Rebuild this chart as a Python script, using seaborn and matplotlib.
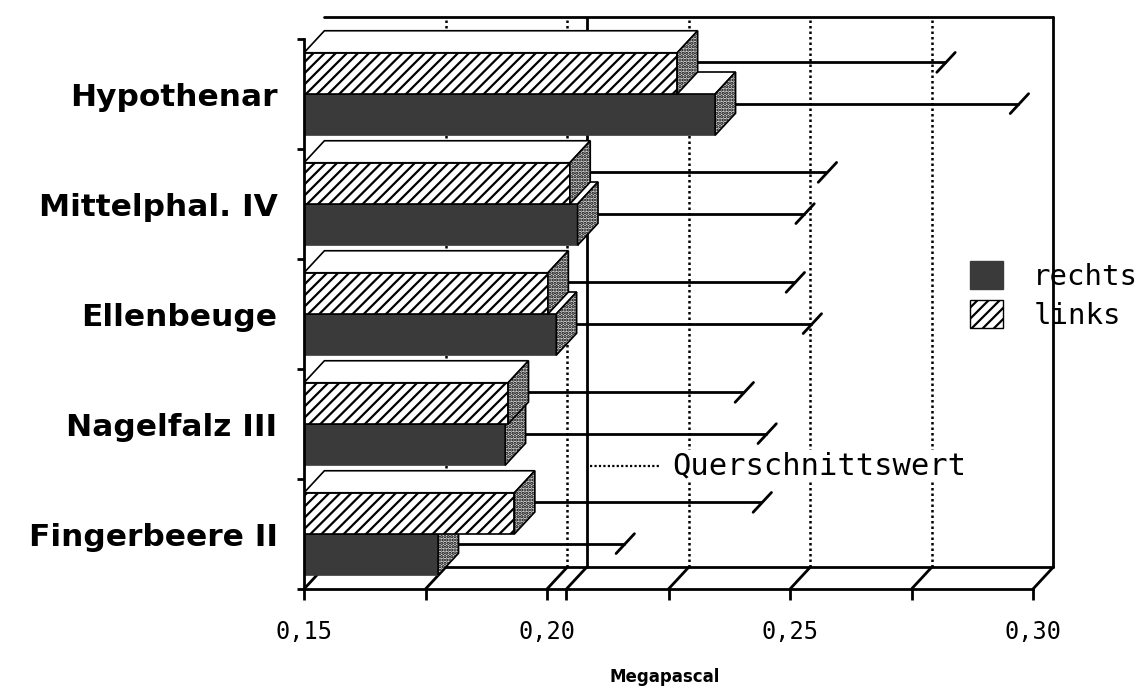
import matplotlib
matplotlib.use("Agg")
import numpy as np
import pandas as pd
import matplotlib.pyplot as plt
from matplotlib.patches import Polygon, Patch
import seaborn as sns

# Hautdicke-Messung: Mittelwert und oberes Ende der Streuung je Messstelle (MPa)
categories = ["Hypothenar", "Mittelphal. IV", "Ellenbeuge", "Nagelfalz III", "Fingerbeere II"]
rechts = [0.2346, 0.2063, 0.2019, 0.1914, 0.1776]
links = [0.2268, 0.2047, 0.2002, 0.1920, 0.1933]
rechts_upper = [0.2951, 0.2510, 0.2525, 0.2432, 0.2140]
links_upper = [0.2800, 0.2556, 0.2490, 0.2385, 0.2422]
querschnittswert = 0.204
x_ticks = [0.15, 0.175, 0.20, 0.225, 0.25, 0.275, 0.30]
x_ticklabels = ["0,15", "", "0,20", "", "0,25", "", "0,30"]
hue_order = ["links", "rechts"]

sns.set_style("white")
plt.rcParams["font.family"] = ["DejaVu Sans"]
plt.rcParams["hatch.linewidth"] = 1.6
for key in ["text.color", "axes.labelcolor", "xtick.color", "ytick.color"]:
    plt.rcParams[key] = "black"

DARK = "#3a3a3a"
X0, X1 = 0.15, 0.30
Y0, Y1 = -0.5, len(categories) - 0.5
DX = 0.0042      # depth shift along the value axis
DY = -0.2        # depth shift along the category axis
PX_X, PX_Y = 4860, 110   # pixels per data unit

W, H = 1148, 693
fig = plt.figure(figsize=(W / 100, H / 100), dpi=100)
left_px, bottom_px = 304, 589
ax_w = (X1 + DX - X0) * PX_X
ax_h = (Y1 - (Y0 + DY)) * PX_Y
ax = fig.add_axes([left_px / W, (H - bottom_px) / H, ax_w / W, ax_h / H])

df = pd.DataFrame({
    "Stelle": categories * 2,
    "Seite": ["links"] * len(links) + ["rechts"] * len(rechts),
    "MPa": links + rechts,
})
sns.barplot(data=df, x="MPa", y="Stelle", hue="Seite", order=categories,
            hue_order=hue_order, orient="h",
            palette={"links": "white", "rechts": DARK}, saturation=1,
            width=0.75, errorbar=None, legend=False, ax=ax,
            edgecolor="black", linewidth=1.2)

ax.set_xlim(X0, X1 + DX)
ax.set_ylim(Y1, Y0 + DY)

upper = {"links": links_upper, "rechts": rechts_upper}
n = len(categories)
for container, level in zip(ax.containers, hue_order):
    for i, rect in enumerate(container):
        v = rect.get_width()
        top = rect.get_y()
        bot = top + rect.get_height()
        z = 2 + (n - 1 - i) * 0.2 + (0.1 if level == "links" else 0.0)
        rect.set_zorder(z)
        if level == "links":
            rect.set_hatch("///")
            rect.set_edgecolor("black")
        else:
            rect.set_edgecolor(DARK)
        # top face
        ax.add_patch(Polygon([(X0, top), (v, top), (v + DX, top + DY), (X0 + DX, top + DY)],
                             closed=True, facecolor="white", edgecolor="black",
                             lw=1.2, zorder=z))
        # right face
        ax.add_patch(Polygon([(v, top), (v, bot), (v + DX, bot + DY), (v + DX, top + DY)],
                             closed=True, facecolor="#d8d8d8", edgecolor="black",
                             hatch=".....", lw=1.2, zorder=z))
        # error bar at mid depth
        e = upper[level][i]
        ym = (top + bot) / 2 + DY / 2
        ax.plot([v + DX / 2, e + DX / 2], [ym, ym], color="black", lw=2,
                zorder=z - 0.05, solid_capstyle="butt")
        ax.plot([e + DX / 2 - 0.45 * DX, e + DX / 2 + 0.45 * DX],
                [ym - 0.45 * DY, ym + 0.45 * DY], color="black", lw=2,
                zorder=z - 0.05)

# back wall, floor and grid
wall_kw = dict(color="black", lw=2, clip_on=False, zorder=1)
ax.plot([X0 + DX, X1 + DX], [Y0 + DY, Y0 + DY], **wall_kw)
ax.plot([X1 + DX, X1 + DX], [Y0 + DY, Y1 + DY], **wall_kw)
ax.plot([X0 + DX, X1 + DX], [Y1 + DY, Y1 + DY], **wall_kw)
for t in x_ticks + [querschnittswert]:
    ax.plot([t, t + DX], [Y1, Y1 + DY], **wall_kw)
for t in x_ticks[1:-1]:
    ax.plot([t + DX, t + DX], [Y1 + DY, Y0 + DY], color="black", lw=1.8,
            ls=(0, (1, 1.2)), zorder=1)
ax.plot([querschnittswert + DX] * 2, [Y1 + DY, Y0 + DY], color="black", lw=2,
        zorder=1.5)

# front axes
for s in ["top", "right"]:
    ax.spines[s].set_visible(False)
ax.spines["left"].set_bounds(Y0, Y1)
ax.spines["bottom"].set_bounds(X0, X1)
for s in ["left", "bottom"]:
    ax.spines[s].set_linewidth(2)
    ax.spines[s].set_color("black")
    ax.spines[s].set_zorder(5)

ax.set_xticks(x_ticks + [querschnittswert], labels=x_ticklabels + [""])
ax.tick_params(axis="x", bottom=True, direction="out", length=8, width=2, pad=14,
               labelsize=17, labelfontfamily="DejaVu Sans Mono")
ax.set_yticks(range(n), labels=categories)
ax.set_yticks(np.arange(Y0, Y1 + 0.5, 1.0), minor=True)
ax.tick_params(axis="y", which="major", left=False, length=0, pad=19, labelsize=22.5)
ax.tick_params(axis="y", which="minor", left=True, direction="out", length=5, width=2)
for lab in ax.get_yticklabels():
    lab.set_fontweight("bold")
ax.set_ylabel("")
ax.set_xlabel("Megapascal", fontsize=12, fontweight="bold")
ax.xaxis.set_label_coords((665 - left_px) / ax_w, -0.138)

# legend
handles = [Patch(facecolor=DARK, edgecolor=DARK),
           Patch(facecolor="white", edgecolor="black", hatch="///")]
ax.legend(handles=handles, labels=["rechts", "links"], loc="upper left",
          bbox_to_anchor=(970 / W, 1 - 261 / H), bbox_transform=fig.transFigure,
          frameon=False, prop={"family": "DejaVu Sans Mono", "size": 21},
          handlelength=1.12, handleheight=1.12, handletextpad=1.05,
          labelspacing=0.3, borderpad=0, borderaxespad=0)

# reference value label
ax.plot([0.381, 0.475], [0.215, 0.215], transform=ax.transAxes, color="black",
        lw=1.6, ls=(0, (1, 1)), zorder=1.8)
ax.text(0.491, 0.215, "Querschnittswert", transform=ax.transAxes, ha="left",
        va="center", fontsize=22, family="DejaVu Sans Mono", zorder=1.8,
        bbox=dict(facecolor="white", edgecolor="none", pad=1))

fig.savefig("out.png", dpi=100)
